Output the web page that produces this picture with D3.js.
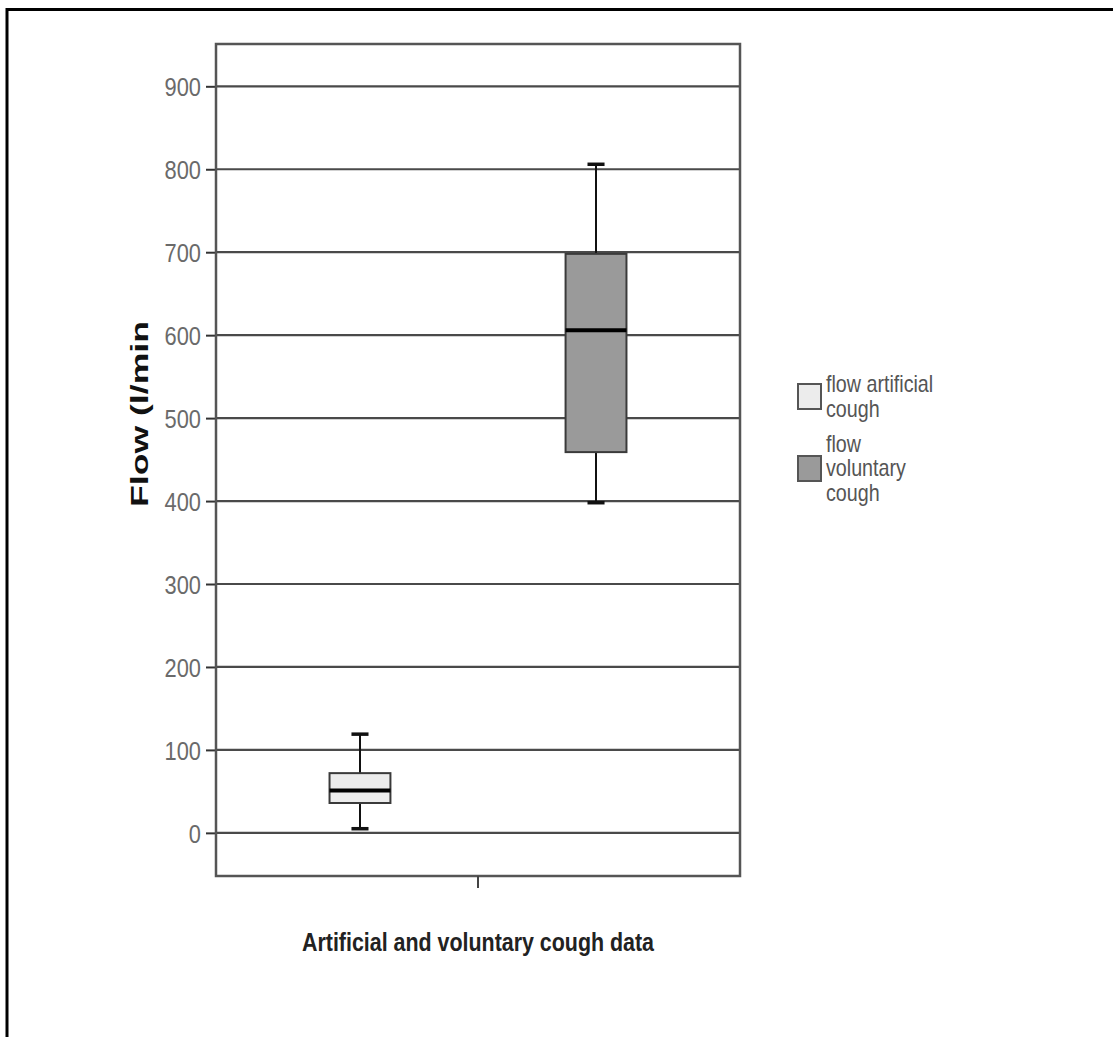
<!DOCTYPE html>
<html>
<head>
<meta charset="utf-8">
<script src="https://cdn.jsdelivr.net/npm/d3@7"></script>
<style>
  html, body { margin: 0; padding: 0; background: #fff; }
  svg { display: block; }
  text { font-family: "Liberation Sans", Arial, sans-serif; }
</style>
</head>
<body>
<svg id="chart" width="1113" height="1037"></svg>
<script>
// ---- data ----
const category = ["Artificial and voluntary cough data"];
const seriesNames = ["flow artificial cough", "flow voluntary cough"];
const legendLines = [["flow artificial", "cough"], ["flow", "voluntary", "cough"]];
const whiskerLow  = [5, 398];
const q1Values    = [36, 459];
const medians     = [51, 606];
const q3Values    = [72, 698];
const whiskerHigh = [119, 806];
const yTicks = [0, 100, 200, 300, 400, 500, 600, 700, 800, 900];
const yTitle = "Flow (l/min";
const xTitle = "Artificial and voluntary cough data";
const fills = ["#ececec", "#9a9a9a"];

// ---- layout ----
const svg = d3.select("#chart");
const plot = { left: 216, right: 740, top: 44, bottom: 876 };

const y = d3.scaleLinear().domain([-52, 951]).range([plot.bottom, plot.top]);
const x = d3.scaleBand().domain(category).range([plot.left, plot.right]);
const xs = d3.scaleBand().domain(seriesNames).range([0, x.bandwidth()])
  .paddingInner(0.742).paddingOuter(0.481);

function condense(sel, factor) {
  sel.each(function () {
    const w = this.getComputedTextLength();
    d3.select(this).attr("textLength", w * factor).attr("lengthAdjust", "spacingAndGlyphs");
  });
}

// outer border
svg.append("path").attr("d", "M7,1037 V9.5 H1113")
  .attr("fill", "none").attr("stroke", "#000").attr("stroke-width", 3);

// gridlines
svg.append("g").selectAll("line").data(yTicks).join("line")
  .attr("x1", plot.left).attr("x2", plot.right)
  .attr("y1", d => y(d)).attr("y2", d => y(d))
  .attr("stroke", "#4a4a4a").attr("stroke-width", 2.2);

// y axis
const yAxis = svg.append("g").attr("transform", `translate(${plot.left},0)`)
  .call(d3.axisLeft(y).tickValues(yTicks).tickSize(10).tickPadding(5));
yAxis.select(".domain").remove();
yAxis.selectAll(".tick line").attr("stroke", "#333").attr("stroke-width", 2);
yAxis.selectAll(".tick text").attr("font-size", 26).attr("fill", "#6a6a6a")
  .attr("font-family", "\"Liberation Sans\", Arial, sans-serif").attr("dy", "0.36em")
  .call(condense, 0.84);

// frame
svg.append("rect").attr("x", plot.left).attr("y", plot.top)
  .attr("width", plot.right - plot.left).attr("height", plot.bottom - plot.top)
  .attr("fill", "none").attr("stroke", "#555").attr("stroke-width", 2.5);

// x axis tick
const xAxis = svg.append("g").attr("transform", `translate(0,${plot.bottom})`)
  .call(d3.axisBottom(x).tickSize(12).tickFormat(""));
xAxis.select(".domain").remove();
xAxis.selectAll(".tick line").attr("stroke", "#444").attr("stroke-width", 2);

// boxes
const boxes = seriesNames.map((s, i) => ({
  s, i, lo: whiskerLow[i], q1: q1Values[i], med: medians[i], q3: q3Values[i], hi: whiskerHigh[i]
}));
const bg = svg.append("g").selectAll("g").data(boxes).join("g")
  .attr("transform", d => `translate(${x(category[0]) + xs(d.s)},0)`);
const bw = xs.bandwidth();
const capW = bw * 0.28;

bg.append("line").attr("x1", bw / 2).attr("x2", bw / 2)
  .attr("y1", d => y(d.hi)).attr("y2", d => y(d.q3)).attr("stroke", "#111").attr("stroke-width", 2);
bg.append("line").attr("x1", bw / 2).attr("x2", bw / 2)
  .attr("y1", d => y(d.q1)).attr("y2", d => y(d.lo)).attr("stroke", "#111").attr("stroke-width", 2);
bg.append("line").attr("x1", bw / 2 - capW / 2).attr("x2", bw / 2 + capW / 2)
  .attr("y1", d => y(d.hi)).attr("y2", d => y(d.hi)).attr("stroke", "#111").attr("stroke-width", 3.5);
bg.append("line").attr("x1", bw / 2 - capW / 2).attr("x2", bw / 2 + capW / 2)
  .attr("y1", d => y(d.lo)).attr("y2", d => y(d.lo)).attr("stroke", "#111").attr("stroke-width", 3.5);
bg.append("rect").attr("x", 0).attr("width", bw)
  .attr("y", d => y(d.q3)).attr("height", d => y(d.q1) - y(d.q3))
  .attr("fill", d => fills[d.i]).attr("stroke", "#3a3a3a").attr("stroke-width", 2);
bg.append("line").attr("x1", 0).attr("x2", bw)
  .attr("y1", d => y(d.med)).attr("y2", d => y(d.med)).attr("stroke", "#000").attr("stroke-width", 4);

// y title
svg.append("text").attr("transform", "translate(148,414) rotate(-90)")
  .attr("text-anchor", "middle").attr("font-size", 24).attr("font-weight", "bold")
  .attr("fill", "#111").attr("textLength", 186).attr("lengthAdjust", "spacingAndGlyphs")
  .text(yTitle);

// x title
svg.append("text").attr("x", (plot.left + plot.right) / 2).attr("y", 951)
  .attr("text-anchor", "middle").attr("font-size", 25).attr("font-weight", "bold")
  .attr("fill", "#222").attr("textLength", 352).attr("lengthAdjust", "spacingAndGlyphs")
  .text(xTitle);

// legend
const legendY = [396, 468];
const lg = svg.append("g").selectAll("g").data(seriesNames).join("g")
  .attr("transform", (d, i) => `translate(798,${legendY[i]})`);
lg.append("rect").attr("x", 0).attr("y", -12).attr("width", 23).attr("height", 25)
  .attr("fill", (d, i) => fills[i]).attr("stroke", "#555").attr("stroke-width", 2);
lg.each(function (d, i) {
  const lines = legendLines[i];
  const g = d3.select(this);
  const lh = 24.5;
  const start = -(lines.length - 1) * lh / 2;
  g.selectAll("text").data(lines).join("text")
    .attr("x", 28).attr("y", (t, j) => start + j * lh).attr("dy", "0.35em")
    .attr("font-size", 24).attr("fill", "#555")
    .text(t => t)
    .call(condense, 0.82);
});
</script>
</body>
</html>
